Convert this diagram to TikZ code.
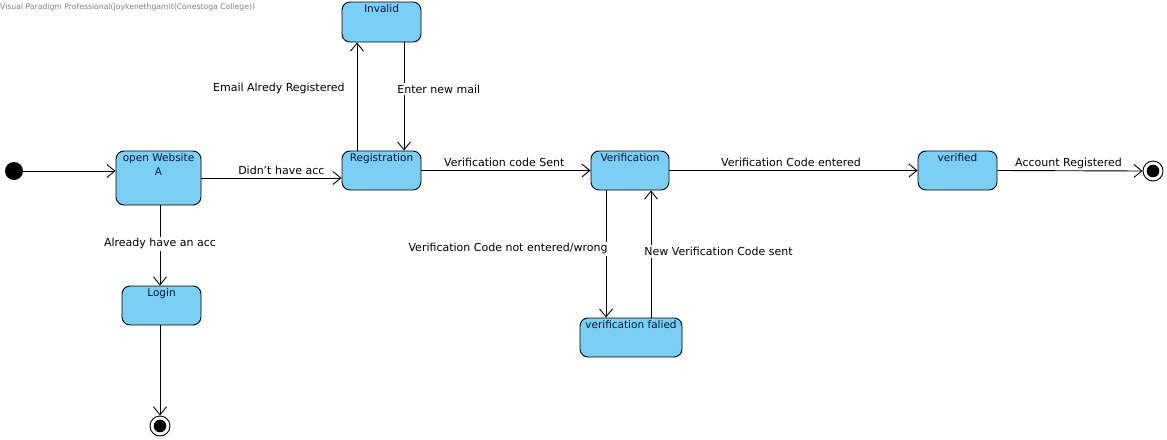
\documentclass[tikz,border=0pt]{standalone}
\usepackage{fontspec}
\setmainfont{DejaVu Sans}
\usetikzlibrary{arrows.meta}
\definecolor{stfill}{RGB}{123,206,244}
\definecolor{sttext}{RGB}{10,20,60}
\tikzset{
  stbox/.style={draw=black, line width=0.9pt, fill=stfill, rounded corners=8pt, inner sep=0pt},
  sttxt/.style={anchor=north, inner sep=1.5pt, yshift=-1.5pt, text=sttext, font=\fontsize{10.5}{14}\selectfont, align=center},
  tr/.style={draw=black, line width=0.9pt, -{Straight Barb[length=8pt,width=13pt,line width=0.9pt]}},
  lab/.style={font=\fontsize{11}{12}\selectfont, inner sep=2pt, text=black},
  labw/.style={lab, fill=white},
  initst/.style={circle, fill=black, minimum size=18pt, inner sep=0pt},
  finst/.style={circle, draw=black, line width=0.9pt, minimum size=20pt, inner sep=0pt,
     path picture={\fill[black] (path picture bounding box.center) circle (6.3pt);}}
}
\begin{document}
\begin{tikzpicture}[x=1pt,y=-1pt]
\useasboundingbox[fill=white] (0,0) rectangle (1167,439);
\node[anchor=north west, inner sep=0pt, text=gray, font=\fontsize{7.7}{8}\selectfont] (wm) at (0,3) {Visual Paradigm Professional(joykenethgamit(Conestoga College))};

\node[initst] (init) at (14,171) {};
\node[stbox, minimum width=85pt, minimum height=54pt, label={[sttxt]north:open Website\\A}] (web) at (158.5,178) {};
\node[stbox, minimum width=79pt, minimum height=39pt, label={[sttxt]north:Registration}] (reg) at (381.5,170.5) {};
\node[stbox, minimum width=79pt, minimum height=40pt, label={[sttxt]north:Invalid}] (inv) at (381.5,22) {};
\node[stbox, minimum width=78pt, minimum height=39pt, label={[sttxt]north:Verification}] (ver) at (630,170.5) {};
\node[stbox, minimum width=79pt, minimum height=39pt, label={[sttxt]north:verified}] (vfd) at (957.5,170.5) {};
\node[stbox, minimum width=79pt, minimum height=39pt, label={[sttxt]north:Login}] (login) at (161.5,305.5) {};
\node[stbox, minimum width=102pt, minimum height=39pt, label={[sttxt]north:verification falied}] (vfail) at (631,337.5) {};
\node[finst] (fin1) at (1153,171) {};
\node[finst] (fin2) at (160,426) {};

\draw[tr] (init) -- (init -| web.west);
\draw[tr] (web.east) -- (web.east -| reg.west)
  node[lab, pos=0.57, anchor=south, yshift=1pt] {Didn't have acc};
\draw[tr] ([xshift=1.5pt]web.south) -- ([xshift=1.5pt]web.south |- login.north)
  node[labw, pos=0.48] {Already have an acc};
\draw[tr] ([xshift=-1.5pt]login.south) -- (fin2.north);
\draw[tr] ([xshift=-24.5pt]reg.north) -- ([xshift=-24.5pt]inv.south)
  node[lab, pos=0.57, anchor=east, xshift=-10pt] {Email Alredy Registered};
\draw[tr] ([xshift=22.5pt]inv.south) -- ([xshift=22.5pt]reg.north)
  node[labw, pos=0.43, anchor=west, xshift=-9pt] {Enter new mail};
\draw[tr] (reg.east) -- (ver.west)
  node[lab, pos=0.49, anchor=south, yshift=1pt] {Verification code Sent};
\draw[tr] ([xshift=-24pt]ver.south) -- ([xshift=-25pt]vfail.north)
  node[labw, pos=0.46, anchor=east, xshift=4pt] {Verification Code not entered/wrong};
\draw[tr] ([xshift=20pt]vfail.north) -- ([xshift=21pt]ver.south)
  node[labw, pos=0.52, anchor=west, xshift=-9pt] {New Verification Code sent};
\draw[tr] (ver.east) -- (vfd.west)
  node[lab, pos=0.49, anchor=south, yshift=1pt] {Verification Code entered};
\draw[tr] (vfd.east) -- (fin1.west)
  node[lab, pos=0.49, anchor=south] {Account Registered};
\end{tikzpicture}
\end{document}
